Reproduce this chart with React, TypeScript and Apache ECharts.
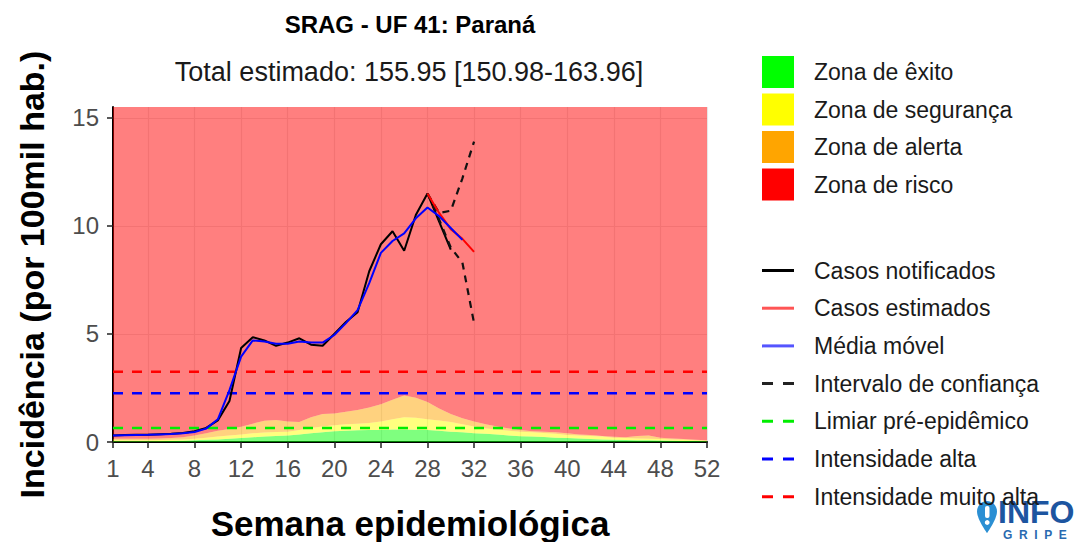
import React, { useEffect, useRef } from 'react';
import * as echarts from 'echarts';

// ---------- data ----------
const WEEKS = ['1', '2', '3', '4', '5', '6', '7', '8', '9', '10', '11', '12', '13', '14', '15', '16', '17', '18',
  '19', '20', '21', '22', '23', '24', '25', '26', '27', '28', '29', '30', '31', '32', '33', '34', '35', '36', '37',
  '38', '39', '40', '41', '42', '43', '44', '45', '46', '47', '48', '49', '50', '51', '52'];

// upper limits of the historical zones (per week)
const GREEN_TOP = [0.03, 0.03, 0.03, 0.03, 0.04, 0.05, 0.06, 0.08, 0.1, 0.12, 0.15, 0.18, 0.22, 0.26, 0.28, 0.3,
  0.35, 0.4, 0.45, 0.5, 0.52, 0.54, 0.55, 0.56, 0.58, 0.58, 0.57, 0.55, 0.52, 0.48, 0.45, 0.4, 0.38, 0.35, 0.3,
  0.27, 0.25, 0.23, 0.2, 0.18, 0.16, 0.14, 0.12, 0.1, 0.09, 0.08, 0.08, 0.07, 0.06, 0.05, 0.05, 0.04];
const YELLOW_TOP = [0.08, 0.08, 0.08, 0.08, 0.09, 0.1, 0.12, 0.15, 0.2, 0.25, 0.3, 0.35, 0.4, 0.44, 0.46, 0.48,
  0.55, 0.65, 0.72, 0.78, 0.82, 0.85, 0.88, 0.95, 1.05, 1.15, 1.12, 1.05, 1.0, 0.92, 0.82, 0.72, 0.62, 0.58, 0.52,
  0.47, 0.45, 0.42, 0.38, 0.32, 0.3, 0.28, 0.25, 0.2, 0.18, 0.16, 0.15, 0.14, 0.12, 0.1, 0.08, 0.06];
const ORANGE_TOP = [0.15, 0.15, 0.15, 0.15, 0.16, 0.18, 0.22, 0.3, 0.4, 0.52, 0.6, 0.7, 0.85, 0.98, 1.02, 0.95,
  0.92, 1.15, 1.3, 1.32, 1.4, 1.48, 1.6, 1.75, 1.95, 2.15, 2.05, 1.85, 1.55, 1.3, 1.1, 0.95, 0.82, 0.72, 0.62,
  0.55, 0.5, 0.47, 0.45, 0.4, 0.35, 0.32, 0.28, 0.24, 0.22, 0.28, 0.3, 0.2, 0.16, 0.14, 0.1, 0.08];

// notified cases, weeks 1..30
const NOTIFICADOS = [0.3, 0.32, 0.33, 0.34, 0.36, 0.38, 0.42, 0.5, 0.65, 1.0, 1.9, 4.35, 4.85, 4.7, 4.45, 4.6,
  4.8, 4.5, 4.45, 5.0, 5.55, 6.0, 7.9, 9.15, 9.75, 8.85, 10.5, 11.5, 10.2, 8.9];
// moving average, weeks 1..31
const MEDIA_MOVEL = [0.3, 0.31, 0.32, 0.33, 0.35, 0.37, 0.4, 0.46, 0.62, 1.05, 2.4, 3.95, 4.7, 4.65, 4.55, 4.55,
  4.65, 4.6, 4.6, 4.95, 5.5, 6.1, 7.35, 8.75, 9.3, 9.65, 10.35, 10.85, 10.45, 9.9, 9.35];
// nowcast
const ESTIM_WEEKS = ['28', '29', '30', '31', '32'];
const ESTIMADOS = [11.5, 10.6, 9.85, 9.4, 8.8];
const IC_SUP = [11.5, 10.6, 10.7, 12.2, 13.9];
const IC_INF = [11.5, 10.3, 9.0, 8.3, 5.5];

// thresholds
const LIMIAR = 0.65;
const INTENS_ALTA = 2.25;
const INTENS_MUITO_ALTA = 3.25;

const X_TICKS = ['1', '4', '8', '12', '16', '20', '24', '28', '32', '36', '40', '44', '48', '52'];
const Y_TICKS = [0, 5, 10, 15];
const Y_MAX = 15.5;

const ZONE_NAMES = ['Zona de êxito', 'Zona de segurança', 'Zona de alerta', 'Zona de risco'];
const LINE_NAMES = ['Casos notificados', 'Casos estimados', 'Média móvel', 'Intervalo de confiança',
  'Limiar pré-epidêmico', 'Intensidade alta', 'Intensidade muito alta'];
const LINE_DASHED = [false, false, false, true, true, true, true];

// ---------- logo shape ----------
echarts.graphic.registerShape(
  'pin',
  echarts.graphic.extendPath('M10 0C4.5 0 0 4.4 0 9.8C0 17 10 30 10 30C10 30 20 17 20 9.8C20 4.4 15.5 0 10 0Z', {})
);

const FONT = 'Liberation Sans, Arial, Helvetica, sans-serif';

function pairs(xs: string[], ys: number[]) {
  return ys.map((v, i) => [xs[i], v]);
}

const isTick = (_idx: number, value: string) => X_TICKS.indexOf(String(value)) >= 0;

function buildOption() {
  const greenBand = GREEN_TOP;
  const yellowBand = YELLOW_TOP.map((v, i) => v - GREEN_TOP[i]);
  const orangeBand = ORANGE_TOP.map((v, i) => v - YELLOW_TOP[i]);
  const redBand = ORANGE_TOP.map((v) => Y_MAX - v);
  const zoneColors = ['#00FF00', '#FFFF00', '#FFA500', '#FF0000'];
  const bands = [greenBand, yellowBand, orangeBand, redBand];

  const zoneSeries = bands.map((b, k) => ({
    name: ZONE_NAMES[k],
    type: 'line',
    stack: 'zones',
    data: b,
    symbol: 'none',
    itemStyle: { color: zoneColors[k] },
    lineStyle: { width: 0, opacity: 0 },
    areaStyle: { color: zoneColors[k], opacity: 0.5 },
    silent: true,
  }));

  const hline = (name: string, v: number, color: string) => ({
    name,
    type: 'line',
    data: [[WEEKS[0], v], [WEEKS[WEEKS.length - 1], v]],
    symbol: 'none',
    itemStyle: { color },
    lineStyle: { color, width: 2.5, type: [10, 9] },
    silent: true,
  });

  const ciStyle = { color: '#111', width: 2.2, type: [7, 6] };
  const dashIcon = 'path://M0 0H11V3H0ZM21 0H32V3H21Z';

  return {
    animation: false,
    textStyle: { fontFamily: FONT },
    title: [
      {
        text: 'SRAG - UF 41: Paraná',
        left: 410,
        top: 12,
        padding: 0,
        textAlign: 'center',
        textStyle: { fontSize: 24, fontWeight: 'bold', color: '#000', fontFamily: FONT },
      },
      {
        text: 'Total estimado: 155.95 [150.98-163.96]',
        left: 409,
        top: 58,
        padding: 0,
        textAlign: 'center',
        textStyle: { fontSize: 27, fontWeight: 'normal', color: '#1a1a1a', fontFamily: FONT },
      },
    ],
    legend: [
      {
        data: ZONE_NAMES.map((n) => ({ name: n, icon: 'rect' })),
        orient: 'vertical',
        left: 762,
        top: 56,
        padding: 0,
        itemWidth: 32,
        itemHeight: 32,
        itemGap: 5.5,
        selectedMode: false,
        textStyle: { fontSize: 23, color: '#1a1a1a', fontFamily: FONT, padding: [0, 0, 0, 15] },
      },
      {
        data: LINE_NAMES.map((n, i) => ({ name: n, icon: LINE_DASHED[i] ? dashIcon : 'rect' })),
        orient: 'vertical',
        left: 762,
        top: 259,
        padding: 0,
        itemWidth: 32,
        itemHeight: 3,
        itemGap: 14.7,
        selectedMode: false,
        textStyle: { fontSize: 23, color: '#1a1a1a', fontFamily: FONT, padding: [0, 0, 0, 15] },
      },
    ],
    grid: { left: 113, right: 370, top: 107, bottom: 100, containLabel: false, outerBoundsMode: 'none' },
    xAxis: {
      type: 'category',
      data: WEEKS,
      boundaryGap: false,
      name: 'Semana epidemiológica',
      nameLocation: 'middle',
      nameGap: 64,
      nameTextStyle: { fontSize: 35, fontWeight: 'bold', color: '#000', fontFamily: FONT },
      axisLine: { show: true, lineStyle: { color: '#000', width: 2 } },
      axisTick: { show: true, length: 6, interval: isTick, lineStyle: { color: '#222', width: 1.5 } },
      axisLabel: { interval: isTick, fontSize: 24, color: '#4d4d4d', margin: 14, fontFamily: FONT },
      splitLine: { show: true, interval: isTick, lineStyle: { color: '#e6e6e6', width: 1.2 } },
    },
    yAxis: {
      type: 'value',
      min: 0,
      max: Y_MAX,
      name: 'Incidência (por 100mil hab.)',
      nameLocation: 'middle',
      nameGap: 64,
      nameTextStyle: { fontSize: 34, fontWeight: 'bold', color: '#000', fontFamily: FONT },
      axisLine: { show: true, lineStyle: { color: '#000', width: 2 } },
      axisTick: { show: true, length: 6, customValues: Y_TICKS, lineStyle: { color: '#222', width: 1.5 } },
      axisLabel: { customValues: Y_TICKS, fontSize: 24, color: '#4d4d4d', margin: 14, fontFamily: FONT },
      splitLine: { show: true, lineStyle: { color: '#e6e6e6', width: 1.2 } },
    },
    series: [
      ...zoneSeries,
      hline('Limiar pré-epidêmico', LIMIAR, '#00EE00'),
      hline('Intensidade alta', INTENS_ALTA, '#0000FF'),
      hline('Intensidade muito alta', INTENS_MUITO_ALTA, '#FF0000'),
      {
        name: 'Casos notificados',
        type: 'line',
        data: NOTIFICADOS,
        symbol: 'none',
        itemStyle: { color: '#000' },
        lineStyle: { color: '#000', width: 2 },
      },
      {
        name: 'Intervalo de confiança',
        type: 'line',
        data: pairs(ESTIM_WEEKS, IC_SUP),
        symbol: 'none',
        itemStyle: { color: '#222' },
        lineStyle: ciStyle,
      },
      {
        name: 'Intervalo de confiança',
        type: 'line',
        data: pairs(ESTIM_WEEKS, IC_INF),
        symbol: 'none',
        itemStyle: { color: '#222' },
        lineStyle: ciStyle,
      },
      {
        name: 'Casos estimados',
        type: 'line',
        data: pairs(ESTIM_WEEKS, ESTIMADOS),
        symbol: 'none',
        itemStyle: { color: '#FF5555' },
        lineStyle: { color: '#FF0000', width: 2 },
      },
      {
        name: 'Média móvel',
        type: 'line',
        data: MEDIA_MOVEL,
        symbol: 'none',
        itemStyle: { color: '#5555FF' },
        lineStyle: { color: '#0000FF', width: 2 },
      },
    ],
    graphic: [
      {
        type: 'group',
        z: 100,
        children: [
          { type: 'pin', x: 977, y: 501, scaleX: 1, scaleY: 1.07, style: { fill: '#2B8FD3' } },
          { type: 'rect', shape: { x: 985, y: 506, width: 4.5, height: 12, r: 2 }, style: { fill: '#fff' } },
          { type: 'circle', shape: { cx: 987.2, cy: 522.5, r: 2.4 }, style: { fill: '#fff' } },
          {
            type: 'text',
            x: 998,
            y: 512,
            style: { text: 'INFO', font: `bold 32px ${FONT}`, fill: '#1D55A0', align: 'left', verticalAlign: 'middle' },
          },
          {
            type: 'text',
            x: 1003,
            y: 535,
            style: { text: 'G  R  I  P  E', font: `bold 12px ${FONT}`, fill: '#2A6AB0', align: 'left', verticalAlign: 'middle' },
          },
        ],
      },
    ],
  };
}

export default function App() {
  const ref = useRef<HTMLDivElement>(null);
  useEffect(() => {
    document.body.style.margin = '0';
    const chart = echarts.init(ref.current as HTMLDivElement, null, { renderer: 'svg' });
    chart.setOption(buildOption() as any);
    return () => chart.dispose();
  }, []);
  return <div ref={ref} style={{ width: 1077, height: 542, position: 'absolute', left: 0, top: 0 }} />;
}
